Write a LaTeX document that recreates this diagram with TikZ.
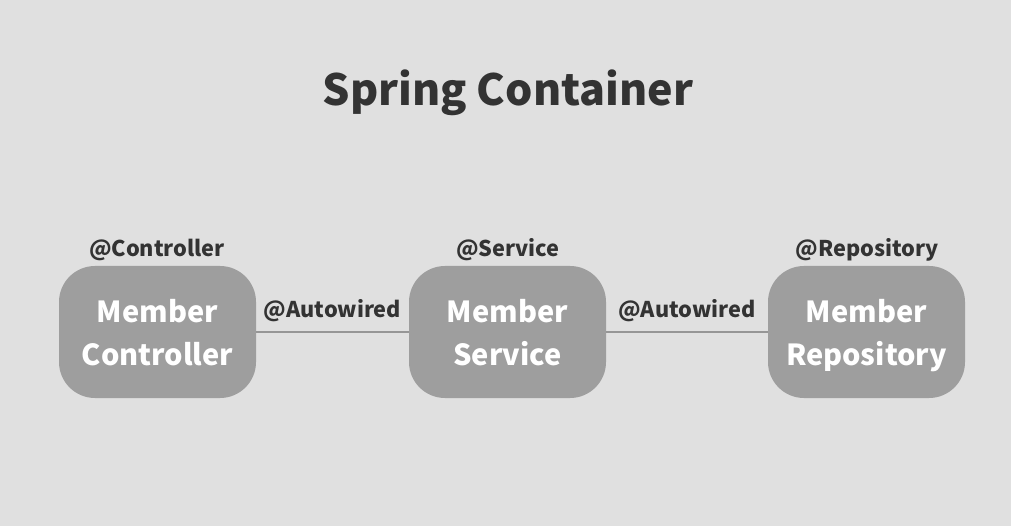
\documentclass[tikz,border=0pt]{standalone}
\usepackage{fontspec}
\setmainfont{Noto Sans CJK KR}
\definecolor{bgcol}{HTML}{E0E0E0}
\definecolor{boxcol}{HTML}{9E9E9E}
\definecolor{txtcol}{HTML}{333333}
\begin{document}
\begin{tikzpicture}[x=1pt,y=-1pt,
		bean/.style={fill=boxcol,rounded corners=36pt,minimum width=197pt,minimum height=132pt,
			text=white,font=\fontsize{29}{43}\selectfont\bfseries,align=center,inner sep=0pt,
			text depth=0pt,execute at begin node=\rule{0pt}{43pt}},
		anno/.style={text=txtcol,font=\fontsize{21.7}{26}\selectfont\bfseries,inner sep=0pt},
		wire/.style={draw=boxcol!95!black,line width=1.6pt}]
				\fill[bgcol] (0,0) rectangle (1011,526);
				\node[text=txtcol,font=\fontsize{43}{48}\selectfont\bfseries] (title) at (508,93) {Spring Container};
				\node[bean] (ctrl) at (157.5,332) {Member\\Controller};
				\node[bean] (svc) at (507.5,332) {Member\\Service};
				\node[bean] (repo) at (866.5,332) {Member\\Repository};
				\node[anno] (actrl) at (157,250) {@Controller};
				\node[anno] (asvc) at (508,250) {@Service};
				\node[anno] (arepo) at (867,250) {@Repository};
				\draw[wire] (ctrl) -- node[anno,above=9pt] (aw1) {@Autowired} (svc);
				\draw[wire] (svc) -- node[anno,above=9pt] (aw2) {@Autowired} (repo);
			\end{tikzpicture}
\end{document}
